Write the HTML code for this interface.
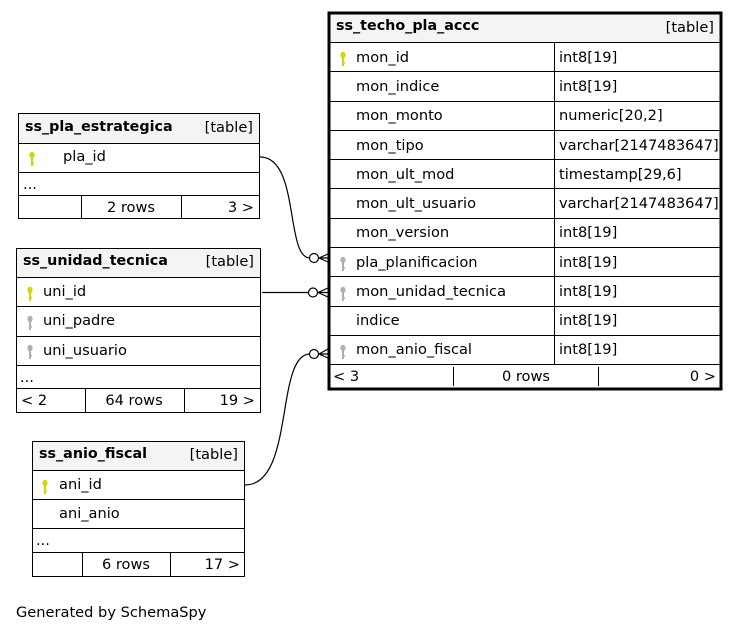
<!DOCTYPE html>
<html><head><meta charset="utf-8"><style>
body{margin:0;background:#fff;}
svg{display:block;font-family:"DejaVu Sans","Liberation Sans",sans-serif;font-size:14.6px;}
text{fill:#000;}
.b{font-weight:bold;font-size:14.3px;}
</style></head><body>
<svg width="740" height="632" viewBox="0 0 740 632" xmlns="http://www.w3.org/2000/svg">
<defs>
<g id="ky"><ellipse cx="0" cy="-4" rx="2.6" ry="3.2" fill="#d4d400"/><rect x="-1" y="-2" width="2" height="9" fill="#d4d400"/><rect x="0" y="3" width="2" height="1.5" fill="#d4d400"/></g>
<g id="kg"><ellipse cx="0" cy="-4" rx="2.6" ry="3.2" fill="#b0b0b0"/><rect x="-1" y="-2" width="2" height="9" fill="#b0b0b0"/><rect x="0" y="3" width="2" height="1.5" fill="#b0b0b0"/></g>
</defs>

<rect x="328.5" y="12.5" width="393" height="377" fill="#fff" stroke="none"/>
<rect x="329" y="13" width="392" height="29" fill="#f4f4f4"/>
<g stroke="#000" stroke-width="1">
<line x1="328" y1="42.5" x2="722" y2="42.5"/>
<line x1="328" y1="71.5" x2="722" y2="71.5"/>
<line x1="328" y1="101.5" x2="722" y2="101.5"/>
<line x1="328" y1="130.5" x2="722" y2="130.5"/>
<line x1="328" y1="159.5" x2="722" y2="159.5"/>
<line x1="328" y1="188.5" x2="722" y2="188.5"/>
<line x1="328" y1="218.5" x2="722" y2="218.5"/>
<line x1="328" y1="247.5" x2="722" y2="247.5"/>
<line x1="328" y1="276.5" x2="722" y2="276.5"/>
<line x1="328" y1="306.5" x2="722" y2="306.5"/>
<line x1="328" y1="335.5" x2="722" y2="335.5"/>
<line x1="328" y1="364.5" x2="722" y2="364.5"/>
<line x1="554.5" y1="42" x2="554.5" y2="365"/>
<line x1="453.5" y1="367" x2="453.5" y2="386"/>
<line x1="598.5" y1="367" x2="598.5" y2="386"/>
</g>
<rect x="329" y="13" width="392" height="376" fill="none" stroke="#000" stroke-width="3"/>
<text x="336" y="30" class="b">ss_techo_pla_accc</text>
<text x="714" y="32" text-anchor="end">[table]</text>
<use href="#ky" x="343" y="59"/>
<text x="356" y="62">mon_id</text><text x="559" y="62">int8[19]</text>
<text x="356" y="91">mon_indice</text><text x="559" y="91">int8[19]</text>
<text x="356" y="120">mon_monto</text><text x="559" y="120">numeric[20,2]</text>
<text x="356" y="150">mon_tipo</text><text x="559" y="150">varchar[2147483647]</text>
<text x="356" y="179">mon_ult_mod</text><text x="559" y="179">timestamp[29,6]</text>
<text x="356" y="208">mon_ult_usuario</text><text x="559" y="208">varchar[2147483647]</text>
<text x="356" y="237">mon_version</text><text x="559" y="237">int8[19]</text>
<use href="#kg" x="343" y="264"/>
<text x="356" y="267">pla_planificacion</text><text x="559" y="267">int8[19]</text>
<use href="#kg" x="343" y="294"/>
<text x="356" y="296">mon_unidad_tecnica</text><text x="559" y="296">int8[19]</text>
<text x="356" y="325">indice</text><text x="559" y="325">int8[19]</text>
<use href="#kg" x="343" y="352"/>
<text x="356" y="354">mon_anio_fiscal</text><text x="559" y="354">int8[19]</text>
<text x="333" y="381">&lt; 3</text>
<text x="526" y="381" text-anchor="middle">0 rows</text>
<text x="716" y="381" text-anchor="end">0 &gt;</text>

<g stroke="#000" stroke-width="1" fill="none">
<rect x="18.5" y="113.5" width="241" height="105" fill="#fff"/>
<rect x="19" y="114" width="240" height="29" fill="#f4f4f4" stroke="none"/>
<line x1="18" y1="143.5" x2="260" y2="143.5"/>
<line x1="18" y1="172.5" x2="260" y2="172.5"/>
<line x1="18" y1="195.5" x2="260" y2="195.5"/>
<line x1="81.5" y1="196" x2="81.5" y2="218"/>
<line x1="181.5" y1="196" x2="181.5" y2="218"/>
</g>
<text x="25" y="131" class="b">ss_pla_estrategica</text>
<text x="253" y="132" text-anchor="end">[table]</text>
<use href="#ky" x="32" y="159"/>
<text x="63" y="161">pla_id</text>
<text x="23" y="189">...</text>
<text x="131" y="212" text-anchor="middle">2 rows</text>
<text x="254" y="212" text-anchor="end">3 &gt;</text>

<g stroke="#000" stroke-width="1" fill="none">
<rect x="16.5" y="248.5" width="244" height="164" fill="#fff"/>
<rect x="17" y="249" width="243" height="28" fill="#f4f4f4" stroke="none"/>
<line x1="16" y1="277.5" x2="261" y2="277.5"/>
<line x1="16" y1="306.5" x2="261" y2="306.5"/>
<line x1="16" y1="336.5" x2="261" y2="336.5"/>
<line x1="16" y1="365.5" x2="261" y2="365.5"/>
<line x1="16" y1="388.5" x2="261" y2="388.5"/>
<line x1="85.5" y1="389" x2="85.5" y2="412"/>
<line x1="184.5" y1="389" x2="184.5" y2="412"/>
</g>
<text x="23" y="265" class="b">ss_unidad_tecnica</text>
<text x="254" y="266" text-anchor="end">[table]</text>
<use href="#ky" x="30" y="294"/>
<text x="43" y="296">uni_id</text>
<use href="#kg" x="30" y="323"/>
<text x="43" y="325">uni_padre</text>
<use href="#kg" x="30" y="352"/>
<text x="43" y="355">uni_usuario</text>
<text x="20" y="382">...</text>
<text x="21" y="405">&lt; 2</text>
<text x="134" y="405" text-anchor="middle">64 rows</text>
<text x="255" y="405" text-anchor="end">19 &gt;</text>

<g stroke="#000" stroke-width="1" fill="none">
<rect x="32.5" y="441.5" width="212" height="135" fill="#fff"/>
<rect x="33" y="442" width="211" height="28" fill="#f4f4f4" stroke="none"/>
<line x1="32" y1="470.5" x2="245" y2="470.5"/>
<line x1="32" y1="499.5" x2="245" y2="499.5"/>
<line x1="32" y1="528.5" x2="245" y2="528.5"/>
<line x1="32" y1="552.5" x2="245" y2="552.5"/>
<line x1="82.5" y1="553" x2="82.5" y2="576"/>
<line x1="170.5" y1="553" x2="170.5" y2="576"/>
</g>
<text x="39" y="458" class="b">ss_anio_fiscal</text>
<text x="238" y="459" text-anchor="end">[table]</text>
<use href="#ky" x="45" y="487"/>
<text x="59" y="489">ani_id</text>
<text x="59" y="518">ani_anio</text>
<text x="36" y="545">...</text>
<text x="126" y="569" text-anchor="middle">6 rows</text>
<text x="240" y="569" text-anchor="end">17 &gt;</text>

<g stroke="#000" stroke-width="1.2" fill="none">
<path d="M260,157 C300,157 285,258 310,258"/>
<line x1="262" y1="292.5" x2="309" y2="292.5"/>
<path d="M245,485 C295,485 275,354 310,354"/>
<path d="M319,258 L328,254 M319,258 L328,262 M319,258 L328,258"/>
<path d="M318,292.5 L328,288 M318,292.5 L328,297 M318,292.5 L328,292.5"/>
<path d="M319,354 L328,349 M319,354 L328,358 M319,354 L328,354"/>
</g>
<g stroke="#000" stroke-width="1.2" fill="#fff">
<circle cx="314" cy="258" r="4.5"/>
<circle cx="313" cy="292.5" r="4.5"/>
<circle cx="314" cy="354" r="4.5"/>
</g>

<text x="16" y="617">Generated by SchemaSpy</text>
</svg>
</body></html>
